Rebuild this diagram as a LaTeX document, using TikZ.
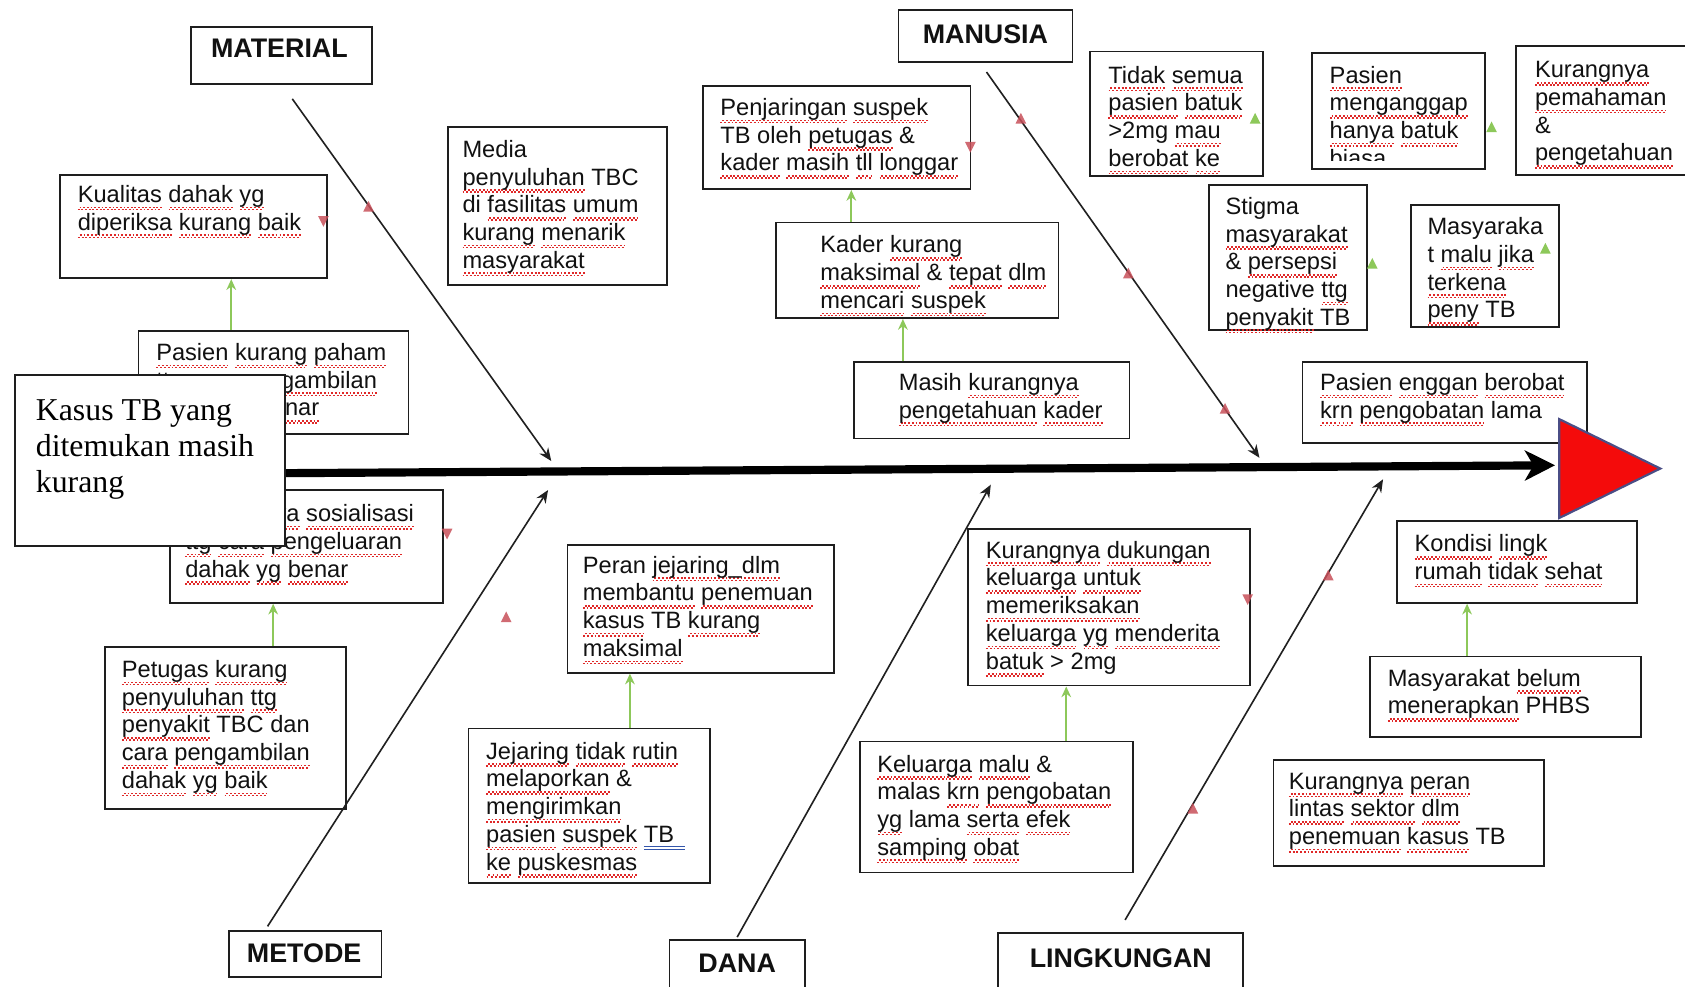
\documentclass[tikz,border=0pt]{standalone}
\usepackage{fontspec}
\setmainfont{Liberation Sans}
\newfontfamily\serifkasus{Liberation Serif}
\usetikzlibrary{arrows.meta,fit}
\definecolor{boxc}{HTML}{1E1E1E}
\definecolor{txtc}{HTML}{111111}
\definecolor{bonec}{HTML}{202020}
\definecolor{greenc}{HTML}{8DC85A}
\definecolor{markred}{HTML}{C8505A}
\definecolor{wavered}{HTML}{E02828}
\definecolor{ulblue}{HTML}{3355AA}
\definecolor{bigred}{HTML}{F40B0B}
\definecolor{triborder}{HTML}{4A4E86}
\newcommand\wv[1]{\setbox0\hbox{#1}\rlap{\textcolor{wavered}{\hbox to \wd0{\xleaders\hbox{\rule[-3.7pt]{0.85pt}{0.75pt}\rule[-2.7pt]{0.85pt}{0.75pt}}\hfil}}}\box0\relax}
\newcommand\firstl{\rule{0pt}{10pt}}
\newcommand\dblul[1]{\rlap{\textcolor{ulblue}{\rule[-2.4pt]{19pt}{0.5pt}}}\rlap{\textcolor{ulblue}{\rule[-3.8pt]{19pt}{0.5pt}}}#1}
\newcommand\mdown[3]{\fill[#1] (#2,#3) ++(-5,-5) -- ++(10,0) -- ++(-5,10) -- cycle;}
\newcommand\mup[3]{\fill[#1] (#2,#3) ++(-5,5) -- ++(10,0) -- ++(-5,-10) -- cycle;}
\begin{document}
\begin{tikzpicture}[x=0.5pt,y=-0.5pt,
  box/.style={draw=boxc, line width=0.8pt, inner sep=0pt},
  txt/.style={anchor=north west, inner sep=0pt, align=left, text=txtc, font=\fontsize{11}{12.9}\selectfont},
  lbl/.style={inner sep=0pt, font=\bfseries\fontsize{12.5}{15}\selectfont, text=txtc},
  bone/.style={draw=bonec, line width=0.75pt, -{Stealth[length=6pt,width=5pt]}},
  garrow/.style={draw=greenc, line width=0.8pt, -{Stealth[length=5pt,width=4.5pt]}},
  spine/.style={draw=black, line width=3.8pt, -{Stealth[length=14pt,width=14pt,inset=4pt]}},
  mred/.style={markred, opacity=0.85},
  mgreen/.style={greenc}
]
\useasboundingbox (0,0) rectangle (1568,918);
\fill[white] (0,0) rectangle (1568,918);

% ---- category labels ----
\node[box, fit={(178,25) (346,78)}] (material) {};
\node[lbl] (material-t) at (260,45) {MATERIAL};
\node[box, fit={(836,9) (998,58)}] (manusia) {};
\node[lbl] (manusia-t) at (917,32) {MANUSIA};
\node[box, fit={(213,866) (355,909)}] (metode) {};
\node[lbl] (metode-t) at (283,887) {METODE};
\node[box, fit={(623,875) (749,930)}] (dana) {};
\node[lbl] (dana-t) at (686,896) {DANA};
\node[box, fit={(929,868) (1157,930)}] (lingk) {};
\node[lbl] (lingk-t) at (1043,892) {LINGKUNGAN};

% ---- cause boxes ----
\node[box, fit={(56,163) (304,259)}] (kual) {};
\node[txt] (kual-t) at (72,168) {\firstl\wv{Kualitas} \wv{dahak} \wv{yg}\\\wv{diperiksa} \wv{kurang} \wv{baik}};

\node[box, fit={(129,308) (380,404)}] (paham) {};
\node[txt] (paham-t) at (145,315) {\firstl\wv{Pasien} \wv{kurang} \wv{paham}\\\wv{ttg} \wv{cara} \wv{pengambilan}\\\wv{dahak} \wv{yg} \wv{benar}};

\node[box, fit={(158,456) (412,561)}] (sosial) {};
\node[txt] (sosial-t) at (172,465) {\firstl\wv{Kurangnya} \wv{sosialisasi}\\\wv{ttg} \wv{cara} \wv{pengeluaran}\\\wv{dahak} \wv{yg} \wv{benar}};

\node[box, fit={(98,602) (322,753)}] (petugas) {};
\node[txt] (petugas-t) at (113,610) {\firstl\wv{Petugas} \wv{kurang}\\\wv{penyuluhan} \wv{ttg}\\\wv{penyakit} TBC dan\\\wv{cara} \wv{pengambilan}\\\wv{dahak} \wv{yg} \wv{baik}};

\node[box, fit={(417,118) (621,265)}] (media) {};
\node[txt] (media-t) at (430,126) {\firstl Media\\\wv{penyuluhan} TBC\\di \wv{fasilitas} \wv{umum}\\\wv{kurang} \wv{menarik}\\\wv{masyarakat}};

\node[box, fit={(654,80) (903,176)}] (penjar) {};
\node[txt] (penjar-t) at (670,87) {\firstl\wv{Penjaringan} \wv{suspek}\\TB oleh \wv{petugas} \&\\\wv{kader} \wv{masih} \wv{tll} \wv{longgar}};

\node[box, fit={(722,207) (985,296)}] (kader) {};
\node[txt] (kader-t) at (763,215) {\firstl Kader \wv{kurang}\\\wv{maksimal} \& \wv{tepat} \wv{dlm}\\\wv{mencari} \wv{suspek}};

\node[box, fit={(795,337) (1051,408)}] (masih) {};
\node[txt] (masih-t) at (836,343) {\firstl Masih \wv{kurangnya}\\\wv{pengetahuan} \wv{kader}};

\node[box, fit={(1014,48) (1175,164)}] (tidak) {};
\node[txt] (tidak-t) at (1031,57) {\firstl\wv{Tidak} \wv{semua}\\\wv{pasien} \wv{batuk}\\>2mg \wv{mau}\\\wv{berobat} \wv{ke}};

\node[box, fit={(1221,49) (1382,157)}] (anggap) {};
\begin{scope}
\clip (1222,50) rectangle (1381,149);
\node[txt] (anggap-t) at (1237,57) {\firstl\wv{Pasien}\\\wv{menganggap}\\\wv{hanya} \wv{batuk}\\\wv{biasa}};
\end{scope}

\node[box, fit={(1411,43) (1620,163)}] (paham2) {};
\node[txt] (paham2-t) at (1428,52) {\firstl\wv{Kurangnya}\\\wv{pemahaman}\\\&\\\wv{pengetahuan}};

\node[box, fit={(1125,172) (1272,307)}] (stigma) {};
\node[txt] (stigma-t) at (1140,179) {\firstl Stigma\\\wv{masyarakat}\\\& \wv{persepsi}\\negative \wv{ttg}\\\wv{penyakit} TB};

\node[box, fit={(1313,191) (1451,304)}] (malu) {};
\node[txt] (malu-t) at (1328,198) {\firstl Masyaraka\\t \wv{malu} \wv{jika}\\\wv{terkena}\\\wv{peny} TB};

\node[box, fit={(1212,337) (1477,412)}] (enggan) {};
\node[txt] (enggan-t) at (1228,343) {\firstl\wv{Pasien} \wv{enggan} \wv{berobat}\\\wv{krn} \wv{pengobatan} lama};

\node[box, fit={(1300,485) (1523,561)}] (kondisi) {};
\node[txt] (kondisi-t) at (1316,493) {\firstl\wv{Kondisi} \wv{lingk}\\\wv{rumah} \wv{tidak} \wv{sehat}};

\node[box, fit={(1275,611) (1527,686)}] (phbs) {};
\node[txt] (phbs-t) at (1291,618) {\firstl Masyarakat \wv{belum}\\\wv{menerapkan} PHBS};

\node[box, fit={(1185,707) (1437,806)}] (lintas) {};
\node[txt] (lintas-t) at (1199,714) {\firstl\wv{Kurangnya} \wv{peran}\\\wv{lintas} \wv{sektor} \wv{dlm}\\\wv{penemuan} \wv{kasus} TB};

\node[box, fit={(528,507) (776,626)}] (peran) {};
\node[txt] (peran-t) at (542,513) {\firstl Peran \wv{jejaring\_dlm}\\\wv{membantu} \wv{penemuan}\\\wv{kasus} TB \wv{kurang}\\\wv{maksimal}};

\node[box, fit={(436,678) (661,822)}] (jejar) {};
\node[txt] (jejar-t) at (452,686) {\firstl\wv{Jejaring} \wv{tidak} \wv{rutin}\\\wv{melaporkan} \&\\\wv{mengirimkan}\\\wv{pasien} \wv{suspek} \dblul{TB}\\\wv{ke} \wv{puskesmas}};

\node[box, fit={(901,492) (1163,638)}] (dukung) {};
\node[txt] (dukung-t) at (917,499) {\firstl\wv{Kurangnya} \wv{dukungan}\\\wv{keluarga} \wv{untuk}\\\wv{memeriksakan}\\\wv{keluarga} \wv{yg} \wv{menderita}\\\wv{batuk} > 2mg};

\node[box, fit={(800,690) (1054,812)}] (kelu) {};
\node[txt] (kelu-t) at (816,698) {\firstl\wv{Keluarga} \wv{malu} \&\\malas \wv{krn} \wv{pengobatan}\\\wv{yg} lama \wv{serta} \wv{efek}\\\wv{samping} \wv{obat}};

% ---- green sub-cause arrows ----
\coordinate (g1) at ([xshift=43.5pt]paham.north west);
\draw[garrow] (g1) -- (g1 |- kual.south);
\coordinate (g2) at ([xshift=78.5pt]petugas.north west);
\draw[garrow] (g2) -- (g2 |- sosial.south);
\coordinate (g3) at ([xshift=35.5pt]kader.north west);
\draw[garrow] (g3) -- (g3 |- penjar.south);
\coordinate (g4) at ([xshift=23pt]masih.north west);
\draw[garrow] (g4) -- (g4 |- kader.south);
\coordinate (g5) at ([xshift=45.5pt]phbs.north west);
\draw[garrow] (g5) -- (g5 |- kondisi.south);
\coordinate (g6) at ([xshift=75.5pt]jejar.north west);
\draw[garrow] (g6) -- (g6 |- peran.south);
\coordinate (g7) at ([xshift=96.5pt]kelu.north west);
\draw[garrow] (g7) -- (g7 |- dukung.south);

% ---- bones ----
\coordinate (matS) at (272,92);  \coordinate (matE) at (513,429);
\coordinate (manS) at (918,67);  \coordinate (manE) at (1172,426);
\coordinate (metS) at (249,862); \coordinate (metE) at (510,456);
\coordinate (danS) at (686,872); \coordinate (danE) at (922,451);
\coordinate (linS) at (1047,856); \coordinate (linE) at (1287,446);
\draw[bone] (matS) -- (matE);
\draw[bone] (manS) -- (manE);
\draw[bone] (metS) -- (metE);
\draw[bone] (danS) -- (danE);
\draw[bone] (linS) -- (linE);

% ---- spine and head ----
\coordinate (spL) at (150,441);
\coordinate (spR) at (1447,433);
\draw[spine] (spL) -- (spR);
\filldraw[fill=bigred, draw=triborder, line width=1pt] (1451,390) -- (1545,436) -- (1451,482) -- cycle;

% ---- small markers ----
\mdown{mred}{301}{206}
\mdown{mred}{416}{497}
\mdown{mred}{903}{137}
\mdown{mred}{1161}{558}
\mup{mred}{343}{192}
\mup{mred}{950}{110}
\mup{mred}{1050}{254}
\mup{mred}{1140}{380}
\mup{mred}{471}{574}
\mup{mred}{1236}{535}
\mup{mred}{1110}{752}
\mup{mgreen}{1168}{110}
\mup{mgreen}{1388}{118}
\mup{mgreen}{1277}{245}
\mup{mgreen}{1438}{231}

% ---- effect box on top ----
\node[box, fill=white, fit={(14,349) (265,508)}] (kasus) {};
\node[anchor=north west, inner sep=0pt, align=left, text=black, font=\serifkasus\fontsize{14.8}{16.75}\selectfont] (kasus-t) at (33,365) {\rule{0pt}{13pt}Kasus TB yang\\ditemukan masih\\kurang};
\end{tikzpicture}
\end{document}
